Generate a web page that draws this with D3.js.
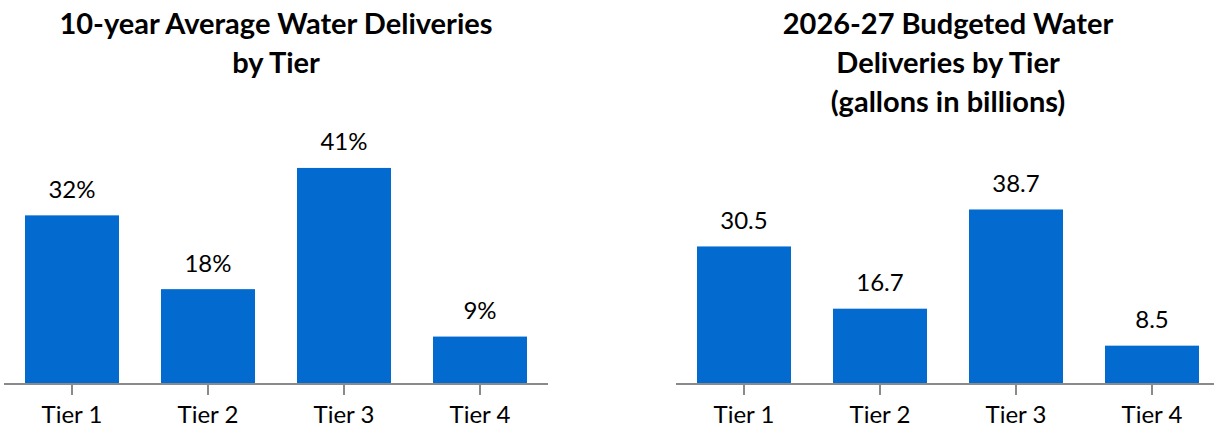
<!DOCTYPE html>
<html>
<head>
<meta charset="utf-8">
<script src="https://cdn.jsdelivr.net/npm/d3@7"></script>
<style>
  html, body { margin: 0; padding: 0; background: #fff; }
  svg { display: block; font-family: Lato, "Open Sans", sans-serif; }
</style>
</head>
<body>
<svg id="chart" width="1214" height="428"></svg>
<script>
// Tier categories shared by both panels
const tiers = ["Tier 1", "Tier 2", "Tier 3", "Tier 4"];

// Panel 1: 10-year average share of deliveries (%)
const avgShare = [32, 18, 41, 9];
const avgTitle = ["10-year Average Water Deliveries", "by Tier"];

// Panel 2: 2026-27 budgeted deliveries (billions of gallons)
const budgeted = [30.5, 16.7, 38.7, 8.5];
const budgetTitle = ["2026-27 Budgeted Water", "Deliveries by Tier", "(gallons in billions)"];

const svg = d3.select("#chart");
const baseY = 384;
const barColor = "#036bcf";
const axisColor = "#8a8a8a";

function panel(opts) {
  const g = svg.append("g");
  const x = d3.scaleBand()
    .domain(tiers)
    .range(opts.xRange)
    .paddingInner(0.309)
    .paddingOuter(0.1545);
  const y = d3.scaleLinear()
    .domain([0, opts.yMax])
    .range([baseY, baseY - opts.yMax * opts.pxPerUnit]);

  // title
  const cx = (opts.xRange[0] + opts.xRange[1]) / 2;
  g.append("text")
    .attr("text-anchor", "middle")
    .attr("font-weight", 700)
    .attr("font-size", 29)
    .attr("fill", "#000")
    .selectAll("tspan")
    .data(opts.title)
    .join("tspan")
    .attr("x", cx)
    .attr("y", (d, i) => 34 + i * 39)
    .text(d => d);

  // bars
  g.selectAll("rect.bar")
    .data(opts.values)
    .join("rect")
    .attr("class", "bar")
    .attr("x", (d, i) => x(tiers[i]))
    .attr("width", x.bandwidth())
    .attr("y", d => y(d))
    .attr("height", d => y(0) - y(d))
    .attr("fill", barColor);

  // value labels
  g.selectAll("text.val")
    .data(opts.values)
    .join("text")
    .attr("class", "val")
    .attr("x", (d, i) => x(tiers[i]) + x.bandwidth() / 2)
    .attr("y", d => y(d) - 17.5)
    .attr("text-anchor", "middle")
    .attr("font-size", 24)
    .attr("fill", "#000")
    .text(d => opts.fmt(d));

  // category axis
  const axis = g.append("g")
    .attr("transform", `translate(0,${baseY})`)
    .call(d3.axisBottom(x).tickSize(11).tickSizeOuter(0));
  axis.select(".domain")
    .attr("stroke", axisColor)
    .attr("stroke-width", 2)
    .attr("d", `M${opts.xRange[0]},0H${opts.xRange[1]}`);
  axis.selectAll(".tick line")
    .attr("stroke", axisColor)
    .attr("stroke-width", 2);
  axis.selectAll(".tick text")
    .attr("y", 39)
    .attr("dy", 0)
    .attr("font-size", 24)
    .attr("font-family", "Lato, 'Open Sans', sans-serif")
    .attr("fill", "#000");
}

panel({
  xRange: [4, 548],
  yMax: 45,
  pxPerUnit: 5.27,
  values: avgShare,
  title: avgTitle,
  fmt: d => d + "%"
});

panel({
  xRange: [676, 1220],
  yMax: 45,
  pxPerUnit: 4.51,
  values: budgeted,
  title: budgetTitle,
  fmt: d => d.toFixed(1)
});
</script>
</body>
</html>
